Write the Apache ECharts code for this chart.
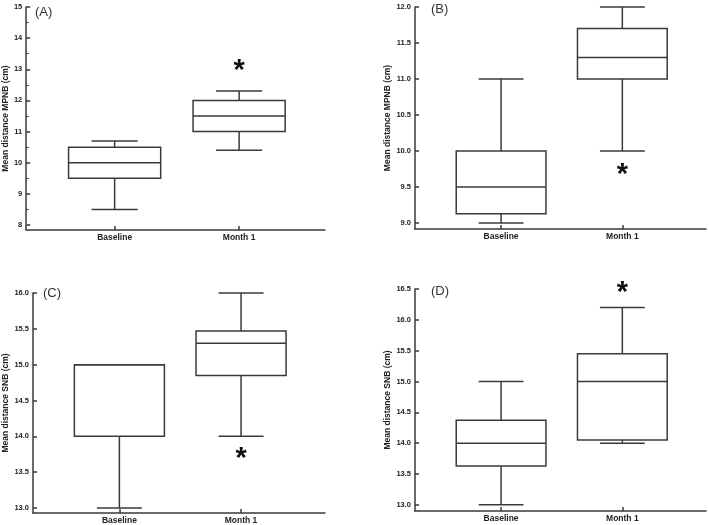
<!DOCTYPE html>
<html>
<head>
<meta charset="utf-8">
<script src="https://cdn.jsdelivr.net/npm/echarts@6/dist/echarts.min.js"></script>
<style>html,body{margin:0;padding:0;background:#fff}#c{width:709px;height:525px}</style>
</head>
<body>
<div id="c"></div>
<script>
// ---- data ----
const categories = ['Baseline', 'Month 1'];
// [min, Q1, median, Q3, max]
const A_baseline = [8.5, 9.5, 10.0, 10.5, 10.7];
const A_month1   = [10.4, 11.0, 11.5, 12.0, 12.3];
const B_baseline = [9.0, 9.13, 9.5, 10.0, 11.0];
const B_month1   = [10.0, 11.0, 11.3, 11.7, 12.0];
const C_baseline = [13.0, 14.0, 15.0, 15.0, 15.0];
const C_month1   = [14.0, 14.85, 15.3, 15.47, 16.0];
const D_baseline = [13.0, 13.63, 14.0, 14.37, 15.0];
const D_month1   = [14.0, 14.05, 15.0, 15.45, 16.2];
// significance markers (value position on Month 1)
const A_star = 13.15, B_star = 9.75, C_star = 13.77, D_star = 16.53;
// tick labels
const A_ticks = [8, 9, 10, 11, 12, 13, 14, 15];
const A_minor = [8.5, 9.5, 10.5, 11.5, 12.5, 13.5, 14.5];
const B_ticks = [9.0, 9.5, 10.0, 10.5, 11.0, 11.5, 12.0];
const C_ticks = [13.0, 13.5, 14.0, 14.5, 15.0, 15.5, 16.0];
const D_ticks = [13.0, 13.5, 14.0, 14.5, 15.0, 15.5, 16.0, 16.5];
const panelLabels = ['(A)', '(B)', '(C)', '(D)'];
const yNames = ['Mean distance MPNB (cm)', 'Mean distance MPNB (cm)', 'Mean distance SNB (cm)', 'Mean distance SNB (cm)'];

// ---- layout / style ----
const LINE = '#3a3a3a';
const TXT = '#222';
const LW = 1.5;
const BOX_W = 0.74, CAP_W = 0.37;
const panels = [
  {grid:{left:26, right:384, top:7, bottom:295}, min:7.84, max:15, ticks:A_ticks, dec:0, gap:16,
   data:[A_baseline, A_month1], star:A_star, minor:A_minor, lab:{x:35, y:12}},
  {grid:{left:415, right:3, top:7, bottom:296}, min:8.917, max:12, ticks:B_ticks, dec:1, gap:23,
   data:[B_baseline, B_month1], star:B_star, lab:{x:431, y:9.5}},
  {grid:{left:33, right:384, top:293, bottom:10}, min:12.93, max:16, ticks:C_ticks, dec:1, gap:23,
   data:[C_baseline, C_month1], star:C_star, lab:{x:43, y:293.5}},
  {grid:{left:415, right:3, top:289, bottom:14}, min:12.90, max:16.5, ticks:D_ticks, dec:1, gap:23,
   data:[D_baseline, D_month1], star:D_star, lab:{x:431, y:291.5}}
];

function renderBox(params, api) {
  const x = api.value(0);
  const mn = api.value(1), q1 = api.value(2), md = api.value(3), q3 = api.value(4), mx = api.value(5);
  const half = api.size([BOX_W, 0])[0] / 2;
  const capHalf = api.size([CAP_W, 0])[0] / 2;
  const pMin = api.coord([x, mn]), pQ1 = api.coord([x, q1]), pMd = api.coord([x, md]);
  const pQ3 = api.coord([x, q3]), pMax = api.coord([x, mx]);
  const cx = pMd[0];
  const st = {stroke: LINE, lineWidth: LW, fill: null};
  return {
    type: 'group',
    children: [
      {type:'line', shape:{x1:cx, y1:pQ1[1], x2:cx, y2:pMin[1]}, style:st},
      {type:'line', shape:{x1:cx-capHalf, y1:pMin[1], x2:cx+capHalf, y2:pMin[1]}, style:st},
      {type:'line', shape:{x1:cx, y1:pQ3[1], x2:cx, y2:pMax[1]}, style:st},
      {type:'line', shape:{x1:cx-capHalf, y1:pMax[1], x2:cx+capHalf, y2:pMax[1]}, style:st},
      {type:'rect', shape:{x:cx-half, y:pQ3[1], width:2*half, height:pQ1[1]-pQ3[1]},
       style:{stroke: LINE, lineWidth: LW, fill:'#fff'}},
      {type:'line', shape:{x1:cx-half, y1:pMd[1], x2:cx+half, y2:pMd[1]}, style:st}
    ]
  };
}
function renderStar(params, api) {
  const p = api.coord([api.value(0), api.value(1)]);
  return {type:'text', x:p[0], y:p[1] + 6,
    style:{text:'*', fill:'#111', font:'bold 29px "Liberation Sans", Arial, sans-serif',
           textAlign:'center', textVerticalAlign:'middle'}};
}

const grids = [], xAxes = [], yAxes = [], series = [], graphics = [];
panels.forEach((p, i) => {
  grids.push(p.grid);
  xAxes.push({
    type:'value', gridIndex:i, min:0.29, max:2.69,
    axisLine:{show:true, lineStyle:{color:LINE, width:LW}},
    axisTick:{show:true, inside:true, length:4, customValues:[1, 2], lineStyle:{color:LINE, width:LW}},
    axisLabel:{customValues:[1, 2], formatter:v => categories[Math.round(v) - 1], margin:3,
      color:TXT, fontWeight:'bold', fontSize:8.5, fontFamily:'"Liberation Sans", Arial, sans-serif'},
    splitLine:{show:false}
  });
  const yi = yAxes.length;
  yAxes.push({
    type:'value', gridIndex:i, min:p.min, max:p.max,
    name:yNames[i], nameLocation:'middle', nameGap:p.gap,
    nameTextStyle:{color:TXT, fontWeight:'bold', fontSize:8.5, fontFamily:'"Liberation Sans", Arial, sans-serif'},
    axisLine:{show:true, lineStyle:{color:LINE, width:LW}},
    axisTick:{show:true, inside:true, length:4, customValues:p.ticks, lineStyle:{color:LINE, width:LW}},
    axisLabel:{customValues:p.ticks, formatter:v => v.toFixed(p.dec), margin:4,
      color:TXT, fontWeight:'bold', fontSize:7.5, fontFamily:'"Liberation Sans", Arial, sans-serif'},
    splitLine:{show:false}
  });
  if (p.minor) {
    yAxes.push({
      type:'value', gridIndex:i, min:p.min, max:p.max, position:'left',
      axisLine:{show:false},
      axisTick:{show:true, inside:true, length:2.5, customValues:p.minor, lineStyle:{color:LINE, width:1}},
      axisLabel:{show:false}, splitLine:{show:false}
    });
  }
  series.push({
    type:'custom', xAxisIndex:i, yAxisIndex:yi, renderItem:renderBox, clip:false,
    data:p.data.map((d, k) => [k + 1].concat(d)), silent:true
  });
  series.push({
    type:'custom', xAxisIndex:i, yAxisIndex:yi, renderItem:renderStar, clip:false,
    data:[[2, p.star]], silent:true, z:5
  });
  graphics.push({type:'text', x:p.lab.x, y:p.lab.y,
    style:{text:panelLabels[i], fill:'#333', font:'13px "Liberation Sans", Arial, sans-serif', textVerticalAlign:'middle'}});
});

const chart = echarts.init(document.getElementById('c'), null, {renderer:'canvas'});
chart.setOption({
  animation:false,
  backgroundColor:'#fff',
  grid:grids, xAxis:xAxes, yAxis:yAxes, series:series, graphic:graphics
});
</script>
</body>
</html>
